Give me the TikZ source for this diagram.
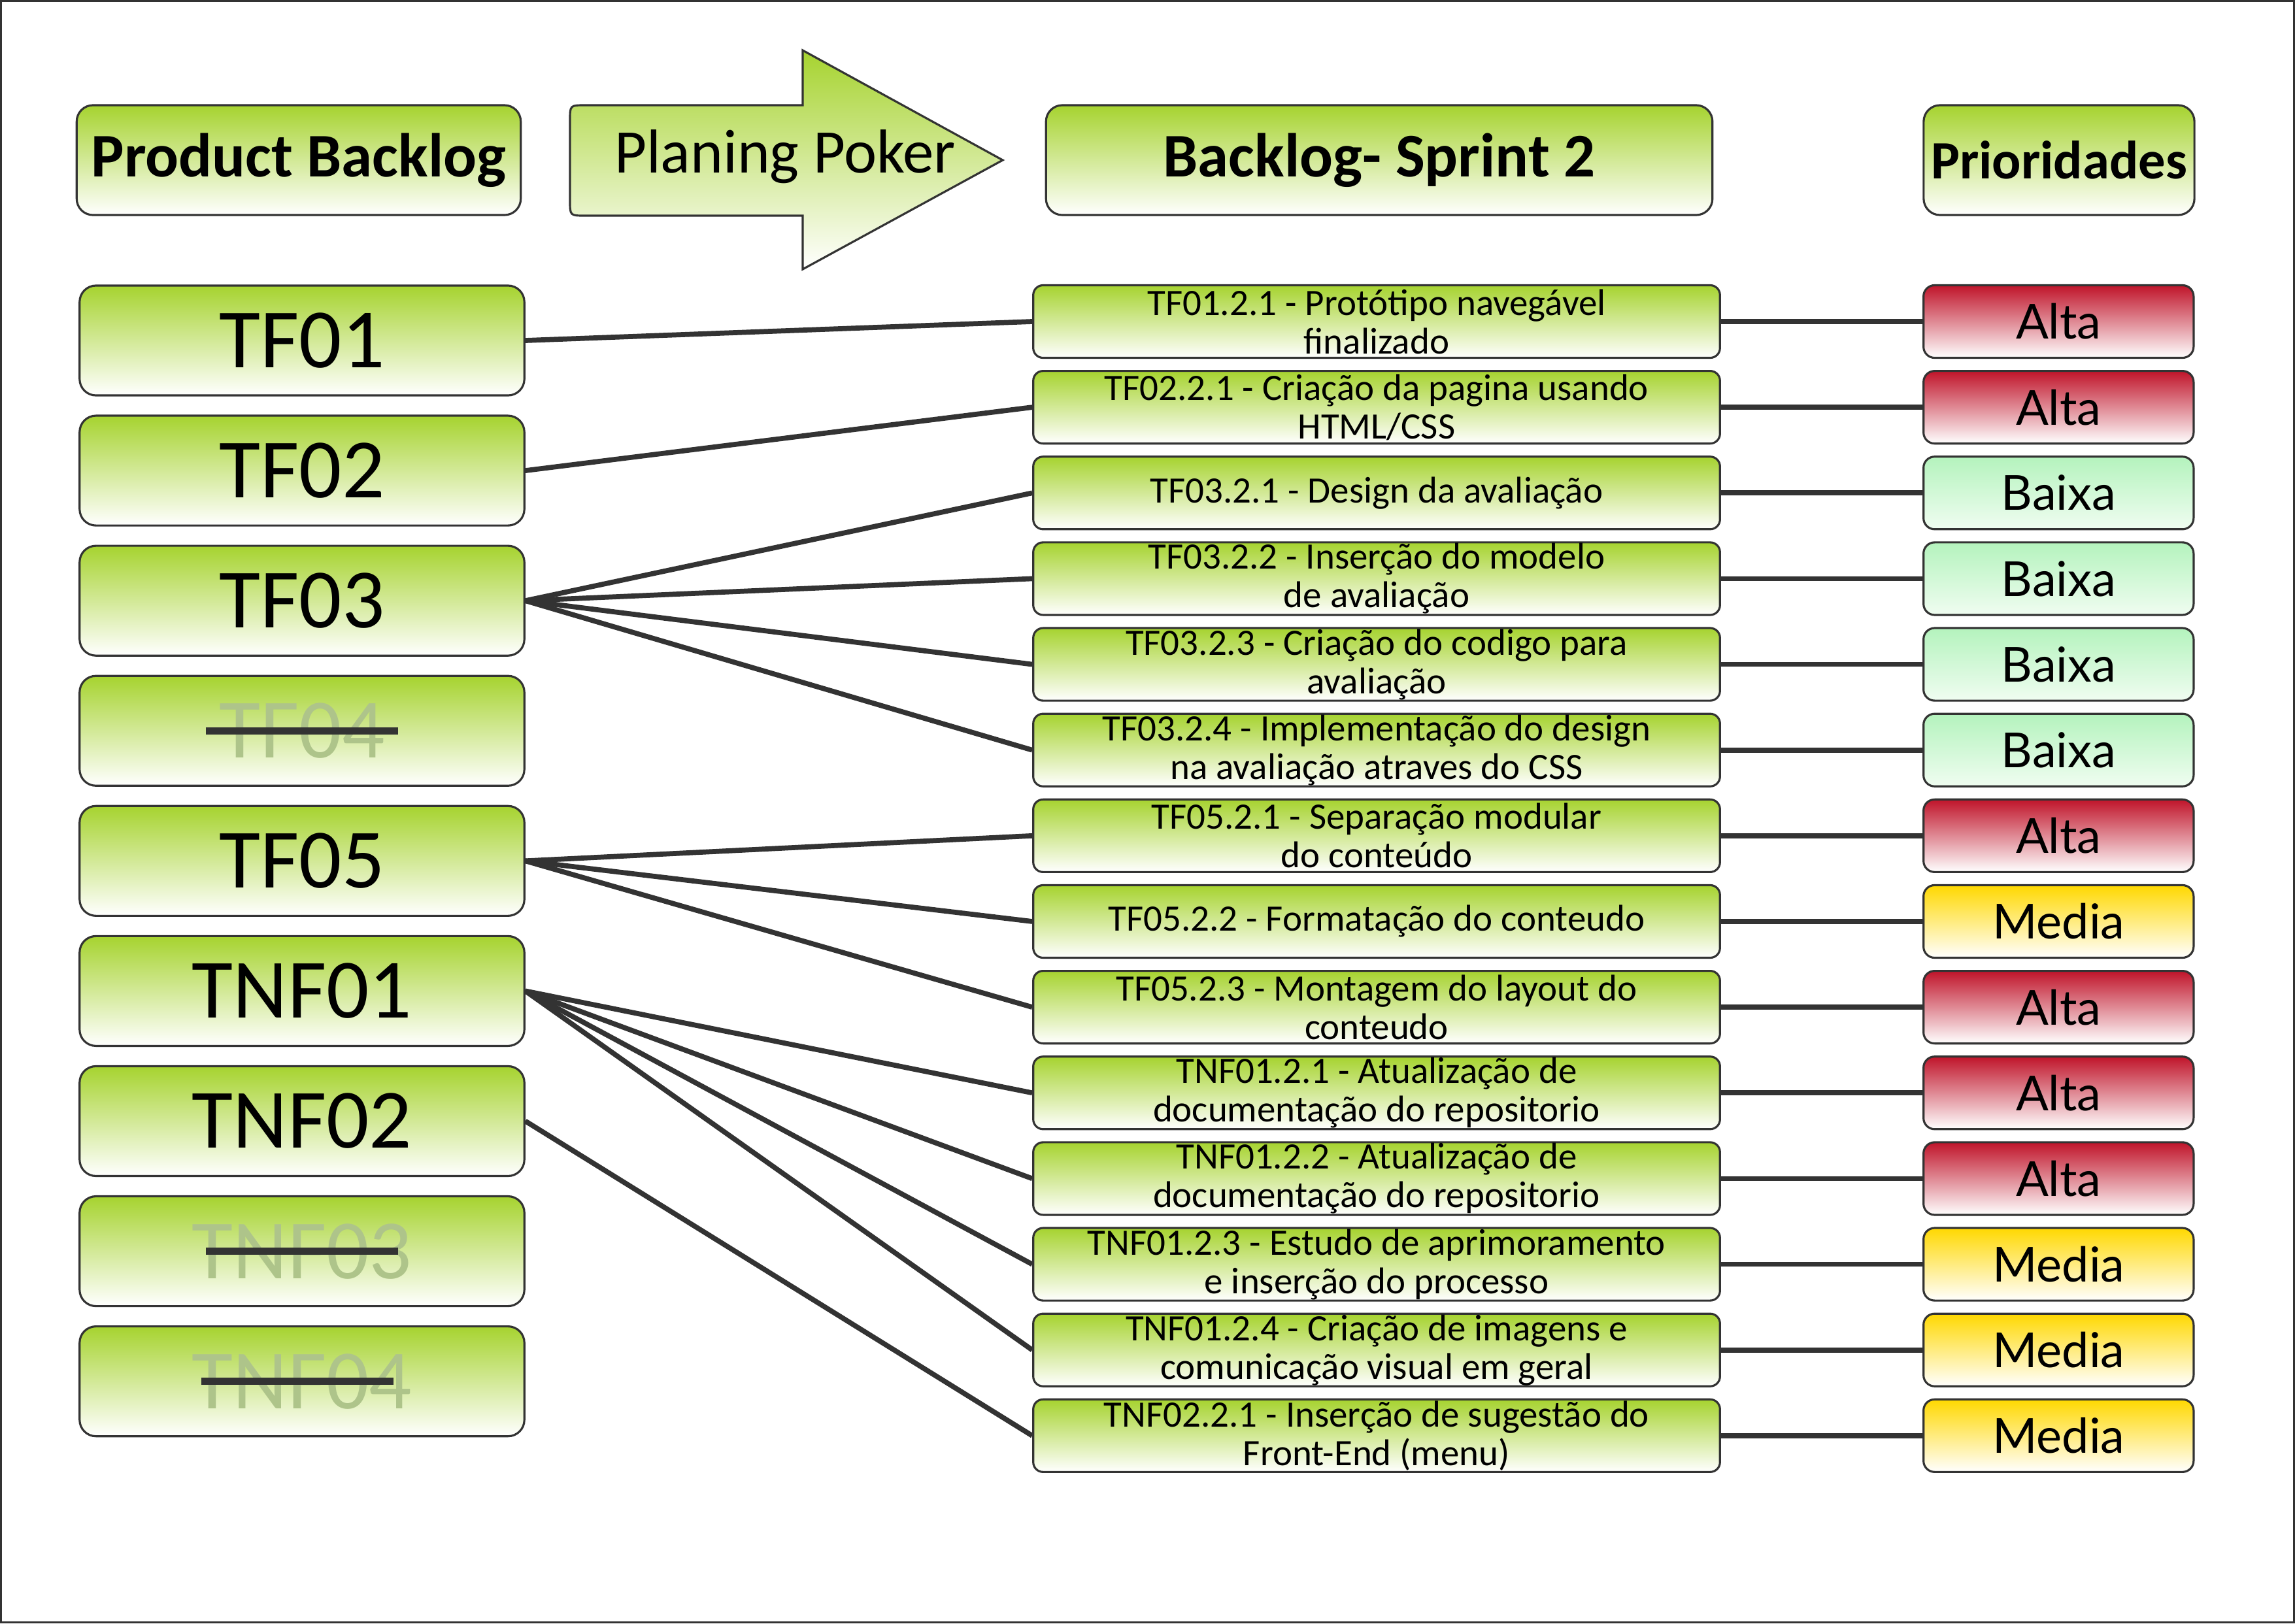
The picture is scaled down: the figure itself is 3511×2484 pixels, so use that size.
\documentclass[tikz,border=0pt]{standalone}
\usepackage{fontspec}
\setmainfont{Carlito}
\newfontfamily\priofont{Lato}
\usepackage{xcolor}
\usepackage{tikz}
\usetikzlibrary{positioning}
\definecolor{boxgreen}{HTML}{A6D32F}
\definecolor{altared}{HTML}{C0142A}
\definecolor{mediayellow}{HTML}{FFD800}
\definecolor{baixagreen}{HTML}{B4F3BD}
\definecolor{baixalight}{HTML}{F0FDF1}
\definecolor{linecolor}{HTML}{333333}
\definecolor{fadedtext}{HTML}{AEC48A}

\begin{document}
\begin{tikzpicture}[
  x=0.01cm, y=-0.01cm,
  box/.style={
    rectangle, draw=linecolor, line width=0.9pt,
    top color=boxgreen, bottom color=white, inner sep=1pt
  },
  headbox/.style={box, rounded corners=0.25cm, minimum height=1.68cm,
    font=\fontsize{27}{30}\selectfont\bfseries},
  reqbox/.style={box, rounded corners=0.25cm, minimum width=6.8cm,
    minimum height=1.68cm, font=\fontsize{36.7}{40}\selectfont},
  gonebox/.style={reqbox, text=fadedtext},
  taskbox/.style={box, rounded corners=0.15cm, minimum width=10.5cm,
    minimum height=1.11cm, inner ysep=-4pt, align=center,
    font=\fontsize{16.2}{16.8}\selectfont},
  prio/.style={box, rounded corners=0.17cm, minimum width=4.13cm,
    minimum height=1.11cm, font=\priofont\fontsize{21}{22}\selectfont},
  alta/.style={prio, top color=altared},
  media/.style={prio, top color=mediayellow},
  baixa/.style={prio, top color=baixagreen, bottom color=baixalight},
  link/.style={linecolor, line width=2.2pt},
  strike/.style={linecolor, line width=3.1pt},
  frame/.style={linecolor, line width=0.9pt},
]
  \useasboundingbox (0,0) rectangle (3511,2484);
  \draw[frame] (1.5,1.5) rectangle (3509.5,2482.5);

  % Header row
  \node[headbox, minimum width=6.79cm] (pb) at (457,245) {Product Backlog};
  \filldraw[draw=linecolor, line width=0.9pt, top color=boxgreen, bottom color=white]
    (1228,161) -- (1228,77) -- (1534,245) -- (1228,412) -- (1228,330)
    -- (895,330) .. controls (872,330) .. (872,307)
    -- (872,184) .. controls (872,161) .. (895,161) -- cycle;
  \node[font=\fontsize{27}{30}\selectfont] (poker) at (1201,240) {Planing Poker};
  \node[headbox, minimum width=10.19cm] (sprint) at (2110,245) {Backlog- Sprint 2};
  \node[headbox, minimum width=4.14cm, font=\fontsize{23.5}{26}\selectfont\bfseries]
    (prios) at (3150,245) {Prioridades};

  % Product backlog items
  \node[reqbox] (tf01) at (462,521) {TF01};
  \node[reqbox, below=0.278cm of tf01]  (tf02)  {TF02};
  \node[reqbox, below=0.278cm of tf02]  (tf03)  {TF03};
  \node[gonebox, below=0.278cm of tf03] (tf04)  {TF04};
  \node[reqbox, below=0.278cm of tf04]  (tf05)  {TF05};
  \node[reqbox, below=0.278cm of tf05]  (tnf01) {TNF01};
  \node[reqbox, below=0.278cm of tnf01] (tnf02) {TNF02};
  \node[gonebox, below=0.278cm of tnf02] (tnf03) {TNF03};
  \node[gonebox, below=0.278cm of tnf03] (tnf04) {TNF04};

  % Dropped items
  \draw[strike] ([xshift=-1.47cm]tf04.center)  -- ([xshift=1.47cm]tf04.center);
  \draw[strike] ([xshift=-1.47cm]tnf03.center) -- ([xshift=1.47cm]tnf03.center);
  \draw[strike] ([xshift=-1.54cm]tnf04.center) -- ([xshift=1.40cm]tnf04.center);

  % Sprint backlog tasks
  \node[taskbox] (t1) at (2106,492) {TF01.2.1 - Protótipo navegável\\finalizado};
  \node[taskbox, below=0.169cm of t1]  (t2)  {TF02.2.1 - Criação da pagina usando\\HTML/CSS};
  \node[taskbox, below=0.169cm of t2]  (t3)  {TF03.2.1 - Design da avaliação};
  \node[taskbox, below=0.169cm of t3]  (t4)  {TF03.2.2 - Inserção do modelo\\de avaliação};
  \node[taskbox, below=0.169cm of t4]  (t5)  {TF03.2.3 - Criação do codigo para\\avaliação};
  \node[taskbox, below=0.169cm of t5]  (t6)  {TF03.2.4 - Implementação do design\\na avaliação atraves do CSS};
  \node[taskbox, below=0.169cm of t6]  (t7)  {TF05.2.1 - Separação modular\\do conteúdo};
  \node[taskbox, below=0.169cm of t7]  (t8)  {TF05.2.2 - Formatação do conteudo};
  \node[taskbox, below=0.169cm of t8]  (t9)  {TF05.2.3 - Montagem do layout do\\conteudo};
  \node[taskbox, below=0.169cm of t9]  (t10) {TNF01.2.1 - Atualização de\\documentação do repositorio};
  \node[taskbox, below=0.169cm of t10] (t11) {TNF01.2.2 - Atualização de\\documentação do repositorio};
  \node[taskbox, below=0.169cm of t11] (t12) {TNF01.2.3 - Estudo de aprimoramento\\e inserção do processo};
  \node[taskbox, below=0.169cm of t12] (t13) {TNF01.2.4 - Criação de imagens e\\comunicação visual em geral};
  \node[taskbox, below=0.169cm of t13] (t14) {TNF02.2.1 - Inserção de sugestão do\\Front-End (menu)};

  % Priorities
  \node[alta,  right=3.08cm of t1]  (p1)  {Alta};
  \node[alta,  right=3.08cm of t2]  (p2)  {Alta};
  \node[baixa, right=3.08cm of t3]  (p3)  {Baixa};
  \node[baixa, right=3.08cm of t4]  (p4)  {Baixa};
  \node[baixa, right=3.08cm of t5]  (p5)  {Baixa};
  \node[baixa, right=3.08cm of t6]  (p6)  {Baixa};
  \node[alta,  right=3.08cm of t7]  (p7)  {Alta};
  \node[media, right=3.08cm of t8]  (p8)  {Media};
  \node[alta,  right=3.08cm of t9]  (p9)  {Alta};
  \node[alta,  right=3.08cm of t10] (p10) {Alta};
  \node[alta,  right=3.08cm of t11] (p11) {Alta};
  \node[media, right=3.08cm of t12] (p12) {Media};
  \node[media, right=3.08cm of t13] (p13) {Media};
  \node[media, right=3.08cm of t14] (p14) {Media};

  % Backlog -> tasks
  \draw[link] (tf01.east) -- (t1.west);
  \draw[link] (tf02.east) -- (t2.west);
  \draw[link] (tf03.east) -- (t3.west);
  \draw[link] (tf03.east) -- (t4.west);
  \draw[link] (tf03.east) -- (t5.west);
  \draw[link] (tf03.east) -- (t6.west);
  \draw[link] (tf05.east) -- (t7.west);
  \draw[link] (tf05.east) -- (t8.west);
  \draw[link] (tf05.east) -- (t9.west);
  \draw[link] (tnf01.east) -- (t10.west);
  \draw[link] (tnf01.east) -- (t11.west);
  \draw[link] (tnf01.east) -- (t12.west);
  \draw[link] (tnf01.east) -- (t13.west);
  \draw[link] (tnf02.east) -- (t14.west);

  % Tasks -> priorities
  \draw[link] (t1.east)  -- (p1.west);
  \draw[link] (t2.east)  -- (p2.west);
  \draw[link] (t3.east)  -- (p3.west);
  \draw[link] (t4.east)  -- (p4.west);
  \draw[link] (t5.east)  -- (p5.west);
  \draw[link] (t6.east)  -- (p6.west);
  \draw[link] (t7.east)  -- (p7.west);
  \draw[link] (t8.east)  -- (p8.west);
  \draw[link] (t9.east)  -- (p9.west);
  \draw[link] (t10.east) -- (p10.west);
  \draw[link] (t11.east) -- (p11.west);
  \draw[link] (t12.east) -- (p12.west);
  \draw[link] (t13.east) -- (p13.west);
  \draw[link] (t14.east) -- (p14.west);
\end{tikzpicture}
\end{document}
